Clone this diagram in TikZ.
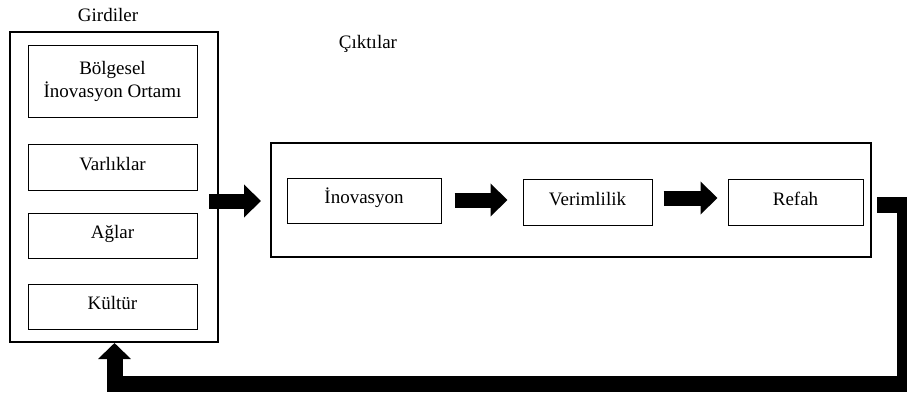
\documentclass[tikz,border=0pt]{standalone}
\usepackage{fontspec}
\setmainfont{Liberation Serif}
\usetikzlibrary{arrows.meta}
\begin{document}
\begin{tikzpicture}[x=1pt,y=-1pt,
  every node/.style={font=\fontsize{19}{23}\selectfont},
  outerbox/.style={draw,line width=2pt,inner sep=0pt},
  innerbox/.style={draw,line width=1pt,inner sep=0pt,align=center},
  onebox/.style={innerbox,text height=12pt,text depth=6pt},
  blockarrow/.style={line width=15pt,-{Triangle[length=17pt,width=32pt]}},
  loop/.style={line width=16pt,-{Triangle[length=16pt,width=32pt]}}]
\useasboundingbox (0,0) rectangle (907,394);
\clip (0,0) rectangle (907,394);
% left group
\node[outerbox,minimum width=208pt,minimum height=310pt] (left) at (114,187) {};
\node (girdiler) at (108,15) {Girdiler};
\node[innerbox,minimum width=169pt,minimum height=72pt] (bio) at (112.5,81) {Bölgesel\\İnovasyon Ortamı};
\node[onebox,minimum width=169pt,minimum height=46pt] (var) at (112.5,167) {Varlıklar};
\node[onebox,minimum width=169pt,minimum height=45pt] (ag) at (112.5,235.5) {Ağlar};
\node[onebox,minimum width=169pt,minimum height=45pt] (kul) at (112.5,306.5) {Kültür};
% right group
\node[outerbox,minimum width=600pt,minimum height=114pt] (right) at (571,200) {};
\node (ciktilar) at (368,44) {Çıktılar};
\node[onebox,minimum width=154pt,minimum height=45pt] (ino) at (364,200.5) {İnovasyon};
\node[onebox,minimum width=129pt,minimum height=46pt] (ver) at (587.5,202) {Verimlilik};
\node[onebox,minimum width=135pt,minimum height=46pt] (ref) at (795.5,202) {Refah};
% arrows
\draw[blockarrow] ([xshift=-10pt]left.east |- 0,201) coordinate (a1) -- ([xshift=-9pt]right.west |- 0,201);
\draw[blockarrow] ([xshift=13pt]ino.east |- 0,200) -- ([xshift=-15pt]ver.west |- 0,200);
\draw[blockarrow] ([xshift=11pt]ver.east |- 0,198) -- ([xshift=-10pt]ref.west |- 0,198);
\coordinate (fb) at ([xshift=5pt]right.east |- 0,205);
\draw[loop] (fb) -- (905,205) -- (905,384) -- (114.5,384) -- (left.south -| 114.5,0);
\end{tikzpicture}
\end{document}
